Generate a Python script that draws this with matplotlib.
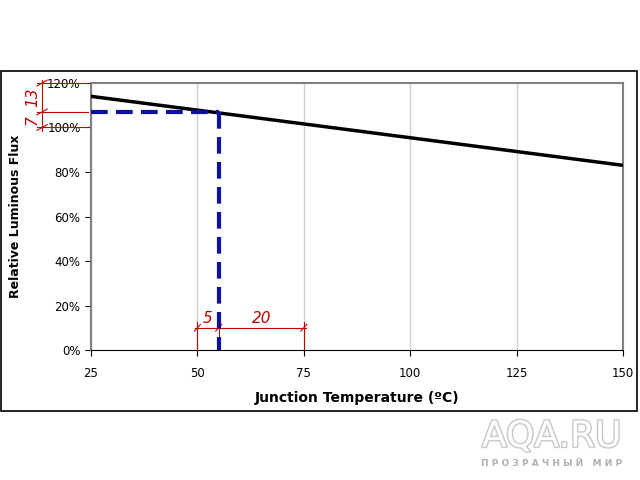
import numpy as np
import matplotlib.pyplot as plt
import matplotlib.patheffects as pe
from matplotlib.patches import Rectangle

# данные
temps = [25, 50, 75, 100, 125, 150]
flux = [114, 107.8, 101.6, 95.4, 89.2, 83]
y_ticks = [0, 20, 40, 60, 80, 100, 120]
x_ticks = [25, 50, 75, 100, 125, 150]
t_point = 55
flux_point = 107
dim_top = 120
dim_low = 100
dim_left = 50
dim_right = 75

red = "#c00000"
blue = "#1010a0"

fig = plt.figure(figsize=(6.4, 4.8), dpi=100)
fig.patches.append(Rectangle((0.002, 0.143), 0.994, 0.709, transform=fig.transFigure,
                             fill=False, edgecolor="black", linewidth=1.2))

ax = fig.add_axes([0.1422, 0.2708, 0.8312, 0.5563])
ax.plot(temps, flux, color="black", linewidth=2.5, zorder=3)
ax.set_xlim(25, 150)
ax.set_ylim(0, 120)
ax.set_xticks(x_ticks)
ax.set_yticks(y_ticks)
ax.set_yticklabels([str(v) + "%" for v in y_ticks])
ax.tick_params(labelsize=8.5, length=4, color="black")
ax.tick_params(axis="x", pad=8)
ax.xaxis.grid(True, color="#d0d0d0", linewidth=1)
for s in ["left", "top", "right"]:
    ax.spines[s].set_color("#808080")
    ax.spines[s].set_linewidth(1.5)
ax.spines["bottom"].set_color("black")
ax.set_xlabel("Junction Temperature (ºC)", fontsize=10, fontweight="bold", labelpad=8)
ax.set_ylabel("Relative Luminous Flux", fontsize=9, fontweight="bold", labelpad=18)

# синие пунктиры
ax.plot([25, t_point], [flux_point, flux_point], color=blue, linewidth=3,
        dashes=(4, 2), clip_on=False, zorder=4)
ax.plot([t_point, t_point], [flux_point, 0], color=blue, linewidth=3,
        dashes=(4, 2), clip_on=False, zorder=4)

# красные размерные линии слева
dim_x = 13.5
for v in [dim_top, flux_point, dim_low]:
    ax.plot([12.3, 24.2], [v, v], color=red, linewidth=0.8, clip_on=False, zorder=5)
    ax.plot([dim_x - 1.2, dim_x + 1.2], [v - 1.3, v + 1.3], color=red, linewidth=0.8,
            clip_on=False)
ax.plot([dim_x, dim_x], [dim_low - 1.5, dim_top + 1.5], color=red, linewidth=0.8, clip_on=False)
ax.text(dim_x - 0.5, (dim_top + flux_point) / 2, "13", color=red, fontsize=11, style="italic",
        rotation=90, ha="right", va="center", clip_on=False)
ax.text(dim_x - 0.5, (flux_point + dim_low) / 2, "7", color=red, fontsize=11, style="italic",
        rotation=90, ha="right", va="center", clip_on=False)

# красные размерные линии снизу
for t in [dim_left, t_point, dim_right]:
    ax.plot([t, t], [0, 12.5], color=red, linewidth=0.8)
    ax.plot([t - 0.7, t + 0.7], [8.5, 11.5], color=red, linewidth=0.8)
ax.plot([dim_left - 0.5, dim_right + 0.5], [10, 10], color=red, linewidth=0.8)
ax.text((dim_left + t_point) / 2, 10.8, "5", color=red, fontsize=11, style="italic",
        ha="center", va="bottom")
ax.text((t_point + dim_right) / 2, 10.8, "20", color=red, fontsize=11, style="italic",
        ha="center", va="bottom")

# водяной знак
fig.text(0.862, 0.09, "AQA.RU", fontsize=26, color="white", ha="center", va="center",
         path_effects=[pe.withStroke(linewidth=2, foreground="#c8c8c8")])
fig.text(0.862, 0.035, "П Р О З Р А Ч Н Ы Й   М И Р", fontsize=6.5, color="#b0b0b0",
         ha="center", va="center", fontweight="bold")

fig.savefig("out.png", dpi=100)
